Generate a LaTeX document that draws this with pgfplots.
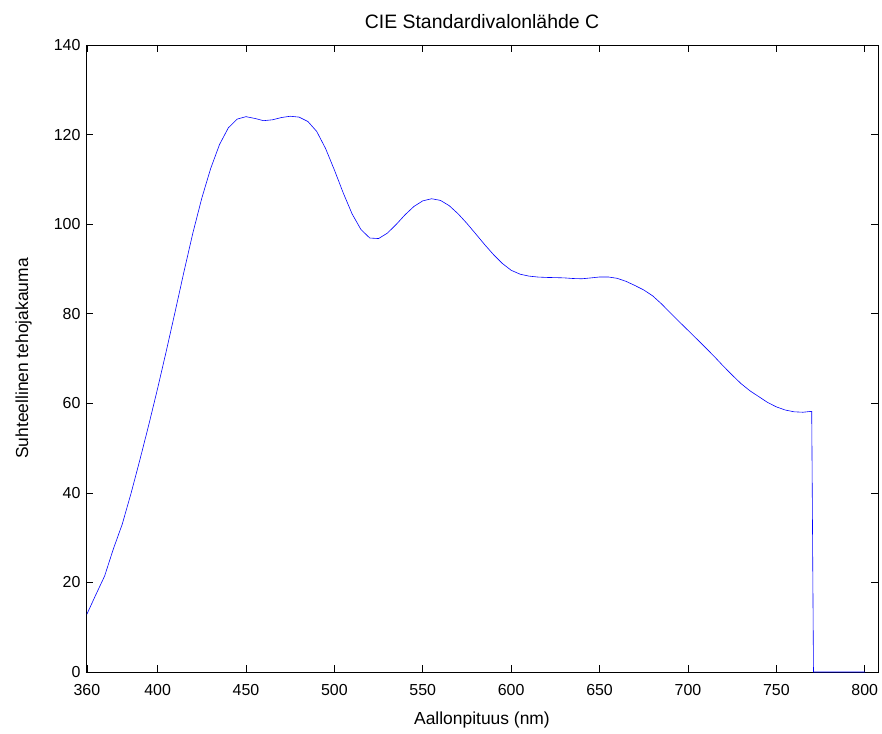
\documentclass[border=0pt]{standalone}
\usepackage{pgfplots}
\pgfplotsset{compat=1.18}
\usepackage{fontspec}
\setmainfont{Liberation Sans}
\begin{document}
\begin{tikzpicture}
\begin{axis}[
  scale only axis,
  width=792bp, height=627bp,
  xmin=359.5, xmax=807.5,
  ymin=0, ymax=140,
  xtick={360,400,450,500,550,600,650,700,750,800},
  ytick={0,20,40,60,80,100,120,140},
  tick align=inside,
  xtick pos=both, ytick pos=both,
  major tick length=7bp,
  axis line style={line width=0.7bp},
  tick style={line width=0.6bp, black},
  /pgf/number format/assume math mode=true,
  /pgf/number format/1000 sep={},
  ticklabel style={font=\fontsize{16}{18}\selectfont},
  xticklabel style={anchor=base, yshift=-23bp},
  yticklabel style={xshift=-2bp},
  title={CIE Standardivalonlähde C},
  title style={font=\fontsize{19.5}{22}\selectfont, at={(axis description cs:0.5,1.0175)}, anchor=base},
  xlabel={Aallonpituus (nm)},
  ylabel={Suhteellinen tehojakauma},
  xlabel style={font=\fontsize{17.5}{20}\selectfont, at={(axis description cs:0.5,-0.0845)}, anchor=base},
  ylabel style={font=\fontsize{17.5}{20}\selectfont, at={(axis description cs:-0.0732,0.5)}, anchor=base},
]
\addplot[blue, line width=0.6bp] coordinates {
(360,12.90)(365,17.20)(370,21.40)(375,27.50)(380,33.00)(385,39.92)(390,47.40)(395,55.17)
(400,63.30)(405,71.81)(410,80.60)(415,89.53)(420,98.10)(425,105.80)(430,112.40)(435,117.75)
(440,121.50)(445,123.45)(450,124.00)(455,123.60)(460,123.10)(465,123.30)(470,123.80)(475,124.09)
(480,123.90)(485,122.92)(490,120.70)(495,116.90)(500,112.10)(505,106.98)(510,102.30)(515,98.81)
(520,96.90)(525,96.78)(530,98.00)(535,99.94)(540,102.10)(545,103.95)(550,105.20)(555,105.67)
(560,105.30)(565,104.11)(570,102.30)(575,100.15)(580,97.80)(585,95.43)(590,93.20)(595,91.22)
(600,89.70)(605,88.83)(610,88.40)(615,88.19)(620,88.10)(625,88.06)(630,88.00)(635,87.86)
(640,87.80)(645,87.99)(650,88.20)(655,88.20)(660,87.90)(665,87.22)(670,86.30)(675,85.30)
(680,84.00)(685,82.21)(690,80.20)(695,78.24)(700,76.30)(705,74.36)(710,72.40)(715,70.40)
(720,68.30)(725,66.30)(730,64.40)(735,62.80)(740,61.50)(745,60.20)(750,59.20)(755,58.50)
(760,58.10)(765,58.00)(770,58.20)(771,0)(800,0)
};
\end{axis}
\pgfresetboundingbox
\path[use as bounding box] ([shift={(-86bp,-62bp)}]current axis.south west) rectangle ([shift={(4bp,45bp)}]current axis.north east);
\end{tikzpicture}
\end{document}
